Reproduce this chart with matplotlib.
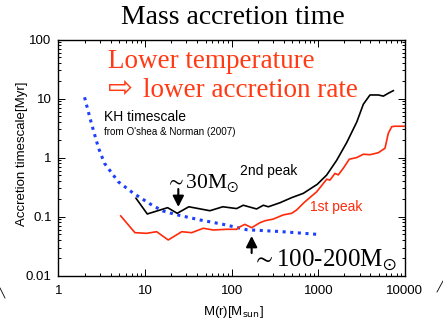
import matplotlib
matplotlib.use("Agg")
import matplotlib.pyplot as plt
from matplotlib.lines import Line2D
from matplotlib.ticker import NullFormatter

# KH timescale (O'shea & Norman 2007)
kh_mass = [2, 2.4, 2.9, 3.4, 4.9, 7.3, 12, 16, 23, 43, 80, 150, 360, 1000]
kh_time = [10.5, 3.8, 1.45, 0.80, 0.39, 0.25, 0.157, 0.125, 0.108, 0.088,
           0.074, 0.060, 0.056, 0.050]

# 2nd peak (black)
peak2_mass = [7.85, 10.6, 18.2, 23.5, 32, 56, 79, 114, 136, 194, 232, 265,
              361, 493, 671, 973, 1250, 1630, 2130, 2780, 3310, 3950, 4930,
              5640, 6430, 7350]
peak2_time = [0.205, 0.111, 0.142, 0.114, 0.147, 0.126, 0.147, 0.137, 0.156,
              0.135, 0.156, 0.147, 0.172, 0.21, 0.248, 0.353, 0.507, 0.9,
              1.8, 4.0, 8.0, 11.5, 11.5, 11.0, 12.3, 13.6]

# 1st peak (red)
peak1_mass = [5.23, 7.64, 10.4, 13.6, 18.5, 26.5, 34.5, 47, 61.3, 87.6, 114,
              125, 142, 170, 212, 243, 302, 394, 493, 563, 702, 959, 1250,
              1365, 1558, 1702, 1944, 2280, 2775, 3310, 3955, 4930, 5890,
              6430, 7040, 7690, 9770]
peak1_time = [0.103, 0.0535, 0.0522, 0.0556, 0.0403, 0.0556, 0.0535, 0.0636,
              0.0594, 0.0611, 0.061, 0.0676, 0.074, 0.065, 0.079, 0.0853,
              0.091, 0.107, 0.114, 0.130, 0.179, 0.264, 0.43, 0.417, 0.54,
              0.51, 0.66, 0.94, 1.0, 1.14, 1.12, 1.21, 1.44, 2.58, 3.34, 3.4,
              3.4]

x_ticks = [1, 10, 100, 1000, 10000]
x_labels = ["1", "10", "100", "1000", "10000"]
y_ticks = [0.01, 0.1, 1, 10, 100]
y_labels = ["0.01", "0.1", "1", "10", "100"]

SERIF = "Liberation Serif"
SANS = "Liberation Sans"
RED_TXT = "#ff3a14"
RED_LINE = "#ff2a0a"
BLUE = "#1f3fff"

plt.rcParams["font.family"] = SANS
plt.rcParams["mathtext.fontset"] = "stix"

fig = plt.figure(figsize=(4.43, 3.22), dpi=100)
ax = fig.add_axes([0.132, 0.1438, 0.782, 0.7335])

ax.plot(kh_mass, kh_time, color=BLUE, lw=2.2, ls=(0, (1, 1.5)))
ax.plot(peak2_mass, peak2_time, color="black", lw=1.2)
ax.plot(peak1_mass, peak1_time, color=RED_LINE, lw=1.2)

ax.set_xscale("log")
ax.set_yscale("log")
ax.set_xlim(1, 10000)
ax.set_ylim(0.01, 100)
ax.set_xticks(x_ticks, labels=x_labels)
ax.set_yticks(y_ticks, labels=y_labels)
ax.xaxis.set_minor_formatter(NullFormatter())
ax.yaxis.set_minor_formatter(NullFormatter())
ax.tick_params(which="both", direction="in", top=True, right=True,
               width=0.7, labelsize=9.5)
ax.tick_params(which="major", length=5)
ax.tick_params(which="minor", length=2.5)
ax.tick_params(axis="x", pad=7)
ax.tick_params(axis="y", pad=5)
for sp in ax.spines.values():
    sp.set_linewidth(1.0)

fig.text(22.5 / 443, 1 - 154 / 322, "Accretion timescale[Myr]", rotation=90,
         ha="center", va="center", fontsize=9.5)
fig.text(233 / 443, 1 - 311.5 / 322, r"M(r)[M$_{\mathrm{sun}}$]",
         ha="center", va="center", fontsize=9.5, math_fontfamily="dejavusans")

fig.text(233 / 443, 1 - 17 / 322, "Mass accretion time", family=SERIF,
         fontsize=20, ha="center", va="center")

ax.text(0.143, 0.879, "Lower temperature", transform=ax.transAxes,
        family=SERIF, fontsize=19.5, color=RED_TXT, va="baseline")
ax.text(0.143, 0.757, "\u21e8", transform=ax.transAxes,
        family="DejaVu Sans", fontsize=21.5, color=RED_TXT, va="baseline")
ax.text(0.2439, 0.757, "lower accretion rate", transform=ax.transAxes,
        family=SERIF, fontsize=19.5, color=RED_TXT, va="baseline")

ax.text(0.131, 0.672, "KH timescale", transform=ax.transAxes, fontsize=10,
        va="center")
ax.text(0.131, 0.610, "from O'shea & Norman (2007)", transform=ax.transAxes,
        fontsize=7.1, va="center")

ax.text(0.307, 0.370, r"$\sim$30M$_{\odot}$", transform=ax.transAxes,
        family=SERIF, fontsize=15.5, va="baseline")
ax.text(0.524, 0.4445, "2nd peak", transform=ax.transAxes, fontsize=10,
        va="center")
ax.text(0.726, 0.291, "1st peak", transform=ax.transAxes, fontsize=10,
        va="center", color=RED_LINE)
ax.text(0.5576, 0.038, r"$\sim$100-200M$_{\odot}$", transform=ax.transAxes,
        family=SERIF, fontsize=18, va="baseline")

arrow = dict(arrowstyle="-|>,head_length=0.65,head_width=0.33", lw=1.5,
             color="black", mutation_scale=10, shrinkA=0, shrinkB=0)
ax.annotate("", xy=(24.2, 0.146), xytext=(24.2, 0.294), arrowprops=arrow)
ax.annotate("", xy=(170, 0.047), xytext=(170, 0.0242), arrowprops=arrow)

# slide decorations
fig.add_artist(Line2D([0 / 443, 5 / 443], [1 - 288 / 322, 1 - 298 / 322],
                      transform=fig.transFigure, color="black", lw=0.6))
fig.add_artist(Line2D([437 / 443, 443 / 443], [1 - 292 / 322, 1 - 281 / 322],
                      transform=fig.transFigure, color="black", lw=0.6))

fig.savefig("out.png", dpi=100)
